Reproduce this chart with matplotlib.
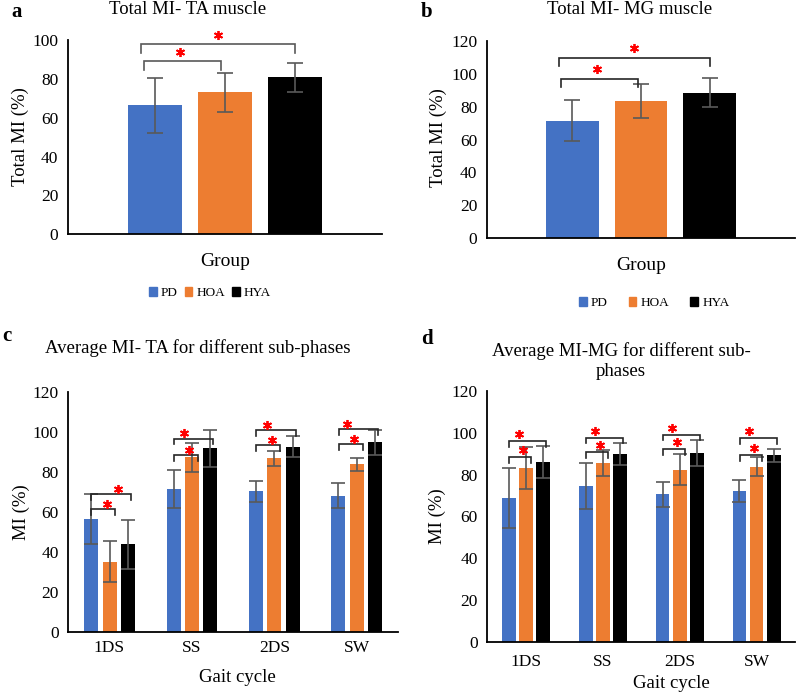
import matplotlib
matplotlib.use("Agg")
import matplotlib.pyplot as plt
from matplotlib.patches import Patch
from matplotlib.transforms import offset_copy
import numpy as np

plt.rcParams['font.family'] = ['Liberation Serif', 'DejaVu Serif']

# data
groups = ['PD', 'HOA', 'HYA']
colors = ['#4472C4', '#ED7D31', '#000000']

ta_total = [66.3, 73.0, 80.7]
ta_total_err = [14.2, 9.8, 7.7]
mg_total = [71.3, 83.4, 88.5]
mg_total_err = [12.5, 10.2, 8.9]

phases = ['1DS', 'SS', '2DS', 'SW']
ta_pd = [56.3, 71.5, 70.2, 68.0]
ta_pd_err = [12.5, 9.4, 5.3, 6.2]
ta_hoa = [35.0, 87.3, 86.8, 83.7]
ta_hoa_err = [10.2, 7.2, 3.8, 3.2]
ta_hya = [43.8, 91.8, 92.5, 94.7]
ta_hya_err = [12.3, 9.3, 5.2, 6.2]

mg_pd = [68.9, 74.5, 70.5, 72.1]
mg_pd_err = [14.4, 11.1, 6.1, 5.3]
mg_hoa = [83.1, 85.7, 82.3, 83.8]
mg_hoa_err = [9.9, 6.2, 7.5, 4.4]
mg_hya = [86.2, 89.8, 90.3, 89.2]
mg_hya_err = [7.7, 5.1, 6.3, 3.1]

# significance bracket levels (PD-HOA, PD-HYA)
ta_total_sig = [89.0, 97.7]
mg_total_sig = [96.8, 109.5]
ta_phase_sig = [[61.2, 68.7], [88.2, 96.5], [93.2, 100.7], [93.8, 101.3]]
mg_phase_sig = [[88.4, 96.1], [90.8, 97.7], [92.2, 99.1], [89.2, 97.3]]

W, H = 797, 695
fig = plt.figure(figsize=(W / 100, H / 100), dpi=100)


def box(l, r, top, bottom):
    return [l / W, 1 - bottom / H, (r - l) / W, (bottom - top) / H]


def style(ax, ymax):
    ax.set_ylim(0, ymax)
    ax.set_yticks(np.arange(0, ymax + 1, 20))
    for s in ['top', 'right']:
        ax.spines[s].set_visible(False)
    for s in ['left', 'bottom']:
        ax.spines[s].set_linewidth(1.3)
        ax.spines[s].set_color('black')
    ax.tick_params(length=0, labelsize=12.5, pad=7)


def bracket(ax, x1, x2, y, leg, color, frac=0.5, star_pts=6):
    ax.plot([x1, x1, x2, x2], [y - leg, y, y, y - leg], color=color, lw=1.2,
            solid_joinstyle='miter', zorder=4, clip_on=False)
    tr = offset_copy(ax.transData, fig=fig, x=0, y=star_pts, units='points')
    ax.plot([x1 + frac * (x2 - x1)], [y], marker=(6, 2, 0), color='red',
            markersize=6.5, mew=1.3, transform=tr, zorder=5, clip_on=False)


err_kw = dict(ecolor='#595959', elinewidth=1.2, capsize=5.5, capthick=1.2)

# panel a / b: totals
totals = [(ta_total, ta_total_err, ta_total_sig, 100, box(68, 382, 40, 234.3), '#595959'),
          (mg_total, mg_total_err, mg_total_sig, 120, box(487, 795, 40.7, 238.3), '#262626')]
for vals, errs, sig, ymax, rect, bcol in totals:
    ax = fig.add_axes(rect)
    x = np.arange(len(groups)) - 1
    ax.bar(x, vals, width=0.77, color=colors, yerr=errs, error_kw=err_kw, zorder=2)
    ax.set_xlim(-2.24, 2.24)
    ax.set_xticks([])
    style(ax, ymax)
    leg = ymax * 0.042
    bracket(ax, x[0] - 0.16, x[1] - 0.05, sig[0], leg, bcol, 0.47, 7)
    bracket(ax, x[0] - 0.2, x[2], sig[1], leg, bcol, 0.5, 7)

# panel c / d: phases
phase_sets = [((ta_pd, ta_hoa, ta_hya), (ta_pd_err, ta_hoa_err, ta_hya_err), ta_phase_sig,
               box(68.3, 398, 391.7, 631.7), 0.17, 6, 3.8, [0.68, 0.25, 0.28, 0.21]),
              ((mg_pd, mg_hoa, mg_hya), (mg_pd_err, mg_hoa_err, mg_hya_err), mg_phase_sig,
               box(487.3, 795, 391, 641.7), 0.18, 9, 5, [0.27, 0.26, 0.25, 0.25])]
err_kw2 = dict(err_kw, capsize=5)
for series, errs, sig, rect, bw, xpad, spts, upfrac in phase_sets:
    ax = fig.add_axes(rect)
    x = np.arange(len(phases))
    for i, (vals, e) in enumerate(zip(series, errs)):
        ax.bar(x + (i - 1) * 0.222, vals, width=bw, color=colors[i], yerr=e,
               error_kw=err_kw2, zorder=2)
    ax.set_xlim(-0.5, 3.5)
    ax.set_xticks(x)
    ax.set_xticklabels(phases)
    style(ax, 120)
    ax.tick_params(axis='x', pad=xpad)
    for j in range(len(phases)):
        bracket(ax, x[j] - 0.22, x[j] + 0.07, sig[j][0], 2.7, '#262626', 0.65, spts)
        bracket(ax, x[j] - 0.22, x[j] + 0.26, sig[j][1], 2.7, '#262626', upfrac[j], spts)


def ftext(x, y, s, va='center', **kw):
    fig.text(x / W, 1 - y / H, s, ha='center', va=va, **kw)


# titles and labels
ftext(188, 14, 'Total MI- TA muscle', va='baseline', fontsize=13.5)
ftext(630, 14, 'Total MI- MG muscle', va='baseline', fontsize=13.5)
ftext(198, 353, 'Average MI- TA for different sub-phases', va='baseline', fontsize=13.5)
ftext(621, 356, 'Average MI-MG for different sub-', va='baseline', fontsize=13.5)
ftext(621, 376, 'phases', va='baseline', fontsize=13.5)

ftext(17, 17, 'a', va='baseline', fontsize=15, fontweight='bold')
ftext(427, 17, 'b', va='baseline', fontsize=15, fontweight='bold')
ftext(7, 341, 'c', va='baseline', fontsize=15, fontweight='bold')
ftext(427, 344, 'd', va='baseline', fontsize=15, fontweight='bold')

ftext(20, 137, 'Total MI (%)', fontsize=13.5, rotation=90)
ftext(438, 138, 'Total MI (%)', fontsize=13.5, rotation=90)
ftext(21, 512, 'MI (%)', fontsize=13.5, rotation=90)
ftext(437, 516, 'MI (%)', fontsize=13.5, rotation=90)

ftext(225, 262, 'Group', fontsize=14)
ftext(641, 265, 'Group', fontsize=14)
ftext(237, 677, 'Gait cycle', fontsize=13.5)
ftext(671, 684, 'Gait cycle', fontsize=13.5)

# legends
handles = [Patch(color=c, label=g) for c, g in zip(colors, groups)]
fig.legend(handles=handles, loc='center', bbox_to_anchor=(210 / W, 1 - 293 / H), ncol=3,
           frameon=False, fontsize=9.5, handlelength=0.6, handleheight=0.6,
           handletextpad=0.3, columnspacing=0.5)
fig.legend(handles=handles, loc='center', bbox_to_anchor=(654 / W, 1 - 303 / H), ncol=3,
           frameon=False, fontsize=9.5, handlelength=0.6, handleheight=0.6,
           handletextpad=0.3, columnspacing=1.6)

fig.savefig('out.png', dpi=100)
